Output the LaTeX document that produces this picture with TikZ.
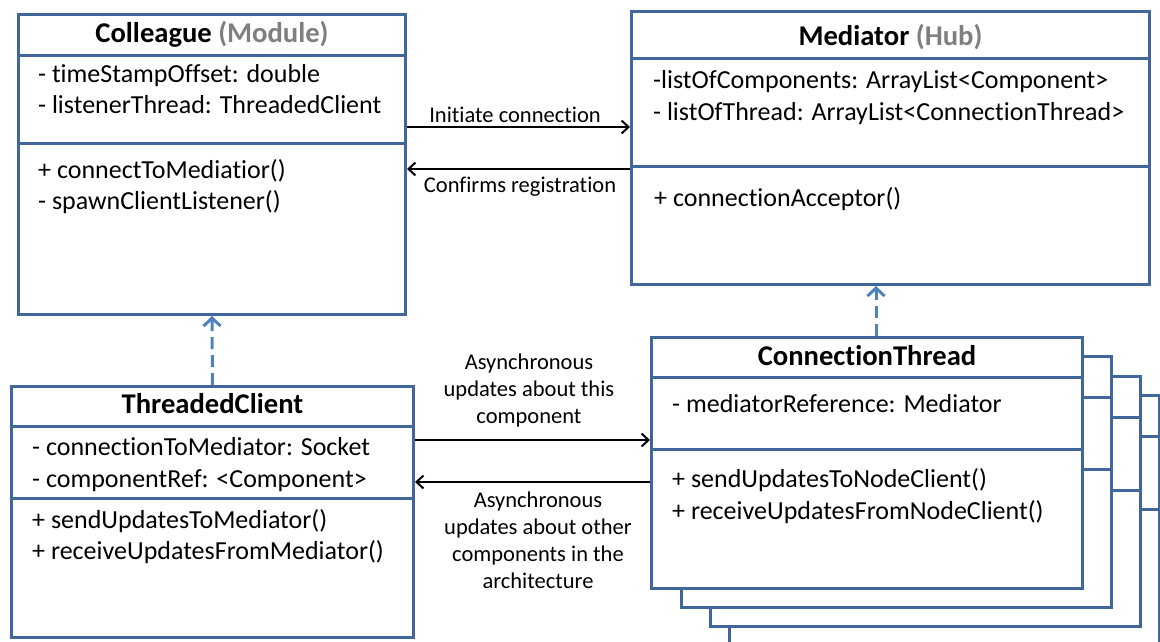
\documentclass[tikz,border=0pt]{standalone}
\usepackage{fontspec}
\setmainfont{Carlito}[Ligatures={NoCommon}]
\usetikzlibrary{arrows.meta}
\definecolor{boxblue}{RGB}{65,102,154}
\definecolor{dashblue}{RGB}{79,129,189}
\definecolor{hubgray}{RGB}{127,127,127}
\begin{document}
\begin{tikzpicture}[x=1pt,y=-1pt,
  umlbox/.style={draw=boxblue, line width=3pt, fill=white, inner sep=0pt, anchor=north west},
  sepline/.style={draw=boxblue, line width=3pt},
  boxtitle/.style={font=\fontsize{28.6}{32}\selectfont\bfseries, anchor=base, inner sep=0pt},
  member/.style={font=\fontsize{26}{32}\selectfont, anchor=base west, inner sep=0pt},
  msg/.style={font=\fontsize{22.5}{27}\selectfont, align=center, inner sep=0pt},
  msgarrow/.style={line width=2pt, -{Straight Barb[length=7pt,width=13pt]}},
  depends/.style={draw=dashblue, line width=3pt, dash pattern=on 12pt off 6pt, -{Straight Barb[length=8pt,width=17pt]}}]
\useasboundingbox (0,0) rectangle (1160,641);
\clip (0,0) rectangle (1160,641);

% ---------------- Colleague ----------------
\node[umlbox, minimum width=387pt, minimum height=300pt] (coll) at (17,13) {};
\draw[sepline] (coll.west |- 0,55) -- (coll.east |- 0,55);
\draw[sepline] (coll.west |- 0,143) -- (coll.east |- 0,143);
\node[boxtitle] (colltitle) at (coll.north |- 0,42) {Colleague \textcolor{hubgray}{(Module)}};
\node[member] (colla1) at (38,82) {- timeStampOffset: double};
\node[member] (colla2) at (38,113) {- listenerThread: ThreadedClient};
\node[member] (collm1) at (38,178) {+ connectToMediatior()};
\node[member] (collm2) at (38,209) {- spawnClientListener()};

% ---------------- Mediator ----------------
\node[umlbox, minimum width=518pt, minimum height=273pt] (med) at (630,10) {};
\draw[sepline] (med.west |- 0,58) -- (med.east |- 0,58);
\draw[sepline] (med.west |- 0,166) -- (med.east |- 0,166);
\node[boxtitle] (medtitle) at (med.north |- 0,45) {Mediator \textcolor{hubgray}{(Hub)}};
\node[member] (meda1) at (653,88) {-listOfComponents: ArrayList<Component>};
\node[member] (meda2) at (653,120) {- listOfThread: ArrayList<ConnectionThread>};
\node[member] (medm1) at (654,206) {+ connectionAcceptor()};

% ---------------- ThreadedClient ----------------
\node[umlbox, minimum width=402pt, minimum height=251pt] (tc) at (10,385) {};
\draw[sepline] (tc.west |- 0,426) -- (tc.east |- 0,426);
\draw[sepline] (tc.west |- 0,498) -- (tc.east |- 0,498);
\node[boxtitle] (tctitle) at (tc.north |- 0,413) {ThreadedClient};
\node[member] (tca1) at (32,455) {- connectionToMediator: Socket};
\node[member] (tca2) at (32,487) {- componentRef: <Component>};
\node[member] (tcm1) at (32,528) {+ sendUpdatesToMediator()};
\node[member] (tcm2) at (32,559) {+ receiveUpdatesFromMediator()};

% ---------------- ConnectionThread stack ----------------
\node[umlbox, minimum width=430pt, minimum height=260pt] (ct3) at (728,394) {};
\draw[sepline] (ct3.west |- 0,436) -- (ct3.east |- 0,436);
\draw[sepline] (ct3.west |- 0,509) -- (ct3.east |- 0,509);
\node[umlbox, minimum width=430pt, minimum height=250pt] (ct2) at (709,375) {};
\draw[sepline] (ct2.west |- 0,417) -- (ct2.east |- 0,417);
\draw[sepline] (ct2.west |- 0,490) -- (ct2.east |- 0,490);
\node[umlbox, minimum width=430pt, minimum height=251pt] (ct1) at (680,355) {};
\draw[sepline] (ct1.west |- 0,397) -- (ct1.east |- 0,397);
\draw[sepline] (ct1.west |- 0,469) -- (ct1.east |- 0,469);
\node[umlbox, minimum width=431pt, minimum height=251pt] (ct) at (650,336) {};
\draw[sepline] (ct.west |- 0,377) -- (ct.east |- 0,377);
\draw[sepline] (ct.west |- 0,449) -- (ct.east |- 0,449);
\node[boxtitle] (cttitle) at (ct.north |- 0,365) {ConnectionThread};
\node[member] (cta1) at (672,412) {- mediatorReference: Mediator};
\node[member] (ctm1) at (672,487) {+ sendUpdatesToNodeClient()};
\node[member] (ctm2) at (672,519) {+ receiveUpdatesFromNodeClient()};

% ---------------- Connectors ----------------
\draw[msgarrow] (coll.east |- 0,127) -- (med.west |- 0,127);
\draw[msgarrow] (med.west |- 0,169) -- (coll.east |- 0,169);
\node[msg, anchor=base] (lbl1) at (515,122) {Initiate connection};
\node[msg, anchor=base] (lbl2) at (520,192) {Confirms registration};

\draw[msgarrow] (tc.east |- 0,440) -- (ct.west |- 0,440);
\draw[msgarrow] (ct.west |- 0,482) -- (tc.east |- 0,482);
\node[msg] (lbl3) at (529,390) {Asynchronous\\updates about this\\component};
\node[msg] (lbl4) at (538,540) {Asynchronous\\updates about other\\components in the\\architecture};

\draw[depends] (tc.north) -- (coll.south);
\draw[depends] (ct.north -| 876,0) -- (med.south -| 876,0);
\end{tikzpicture}
\end{document}
